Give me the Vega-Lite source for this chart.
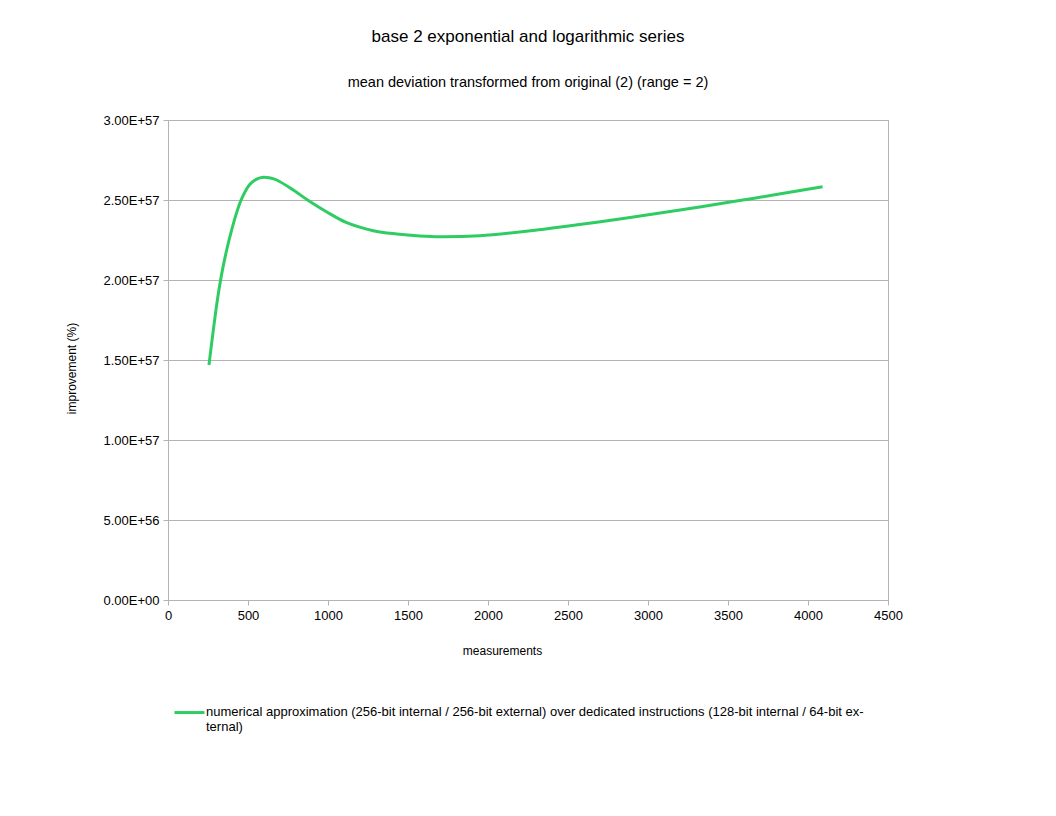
{
  "$schema": "https://vega.github.io/schema/vega-lite/v6.json",
  "description": "base 2 exponential and logarithmic series",
  "autosize": {"type": "none"},
  "padding": {"left": 168, "top": 120, "right": 168, "bottom": 216},
  "width": 720,
  "height": 480,
  "background": "white",
  "title": {
    "text": "base 2 exponential and logarithmic series",
    "subtitle": "mean deviation transformed from original (2) (range = 2)",
    "anchor": "middle",
    "font": "Liberation Sans",
    "fontSize": 17,
    "fontWeight": "normal",
    "color": "black",
    "subtitleFont": "Liberation Sans",
    "subtitleFontSize": 14.5,
    "subtitleColor": "black",
    "subtitlePadding": 30,
    "offset": 24
  },
  "config": {
    "view": {"stroke": "#b3b3b3"},
    "axis": {
      "labelFont": "Liberation Sans",
      "labelFontSize": 13,
      "labelColor": "black",
      "labelFlush": false,
      "titleFont": "Liberation Sans",
      "titleFontSize": 12,
      "titleFontWeight": "normal",
      "titleColor": "black",
      "domainColor": "#b3b3b3",
      "tickColor": "#b3b3b3",
      "gridColor": "#b3b3b3",
      "tickSize": 5
    },
    "legend": {
      "labelFont": "Liberation Sans",
      "labelFontSize": 13,
      "labelColor": "black"
    }
  },
  "data": {
    "values": [
      {"measurements": 256, "improvement": 1.469e57},
      {"measurements": 283, "improvement": 1.685e57},
      {"measurements": 310, "improvement": 1.885e57},
      {"measurements": 335, "improvement": 2.035e57},
      {"measurements": 367, "improvement": 2.189e57},
      {"measurements": 398, "improvement": 2.313e57},
      {"measurements": 429, "improvement": 2.421e57},
      {"measurements": 460, "improvement": 2.507e57},
      {"measurements": 512, "improvement": 2.598e57},
      {"measurements": 554, "improvement": 2.63e57},
      {"measurements": 596, "improvement": 2.642e57},
      {"measurements": 640, "improvement": 2.637e57},
      {"measurements": 679, "improvement": 2.625e57},
      {"measurements": 783, "improvement": 2.5625e57},
      {"measurements": 877, "improvement": 2.497e57},
      {"measurements": 990, "improvement": 2.427e57},
      {"measurements": 1117, "improvement": 2.358e57},
      {"measurements": 1283, "improvement": 2.308e57},
      {"measurements": 1429, "improvement": 2.2875e57},
      {"measurements": 1575, "improvement": 2.275e57},
      {"measurements": 1700, "improvement": 2.27e57},
      {"measurements": 1950, "improvement": 2.277e57},
      {"measurements": 2304, "improvement": 2.3125e57},
      {"measurements": 2596, "improvement": 2.35e57},
      {"measurements": 2888, "improvement": 2.39e57},
      {"measurements": 3200, "improvement": 2.4375e57},
      {"measurements": 3533, "improvement": 2.49e57},
      {"measurements": 3783, "improvement": 2.531e57},
      {"measurements": 4091, "improvement": 2.583e57}
    ]
  },
  "mark": {"type": "line", "strokeWidth": 3, "interpolate": "catmull-rom"},
  "encoding": {
    "x": {
      "field": "measurements",
      "type": "quantitative",
      "title": "measurements",
      "scale": {"domain": [0, 4500], "nice": false},
      "axis": {
        "values": [0, 500, 1000, 1500, 2000, 2500, 3000, 3500, 4000, 4500],
        "format": "d",
        "grid": false,
        "labelPadding": 4,
        "titleX": 334,
        "titleY": 50,
        "titleBaseline": "middle"
      }
    },
    "y": {
      "field": "improvement",
      "type": "quantitative",
      "title": "improvement (%)",
      "scale": {"domain": [0, 3e57], "nice": false},
      "axis": {
        "values": [0, 5e56, 1e57, 1.5e57, 2e57, 2.5e57, 3e57],
        "labelExpr": "datum.value == 0 ? '0.00E+00' : replace(format(datum.value, '.2e'), 'e', 'E')",
        "labelPadding": 4,
        "titleX": -97,
        "titleY": 248,
        "titleBaseline": "middle"
      }
    },
    "color": {
      "datum": "numerical approximation (256-bit internal / 256-bit external) over dedicated instructions (128-bit internal / 64-bit external)",
      "scale": {"range": ["#2ecc63"]},
      "legend": {
        "title": null,
        "orient": "none",
        "legendX": 5,
        "legendY": 569,
        "symbolType": "M-1,0.47H1",
        "symbolSize": 900,
        "symbolStrokeWidth": 3,
        "symbolFillColor": "transparent",
        "labelOffset": 0,
        "labelLimit": 0,
        "labelBaseline": "top",
        "labelExpr": "['numerical approximation (256-bit internal / 256-bit external) over dedicated instructions (128-bit internal / 64-bit ex-', 'ternal)']"
      }
    }
  }
}
